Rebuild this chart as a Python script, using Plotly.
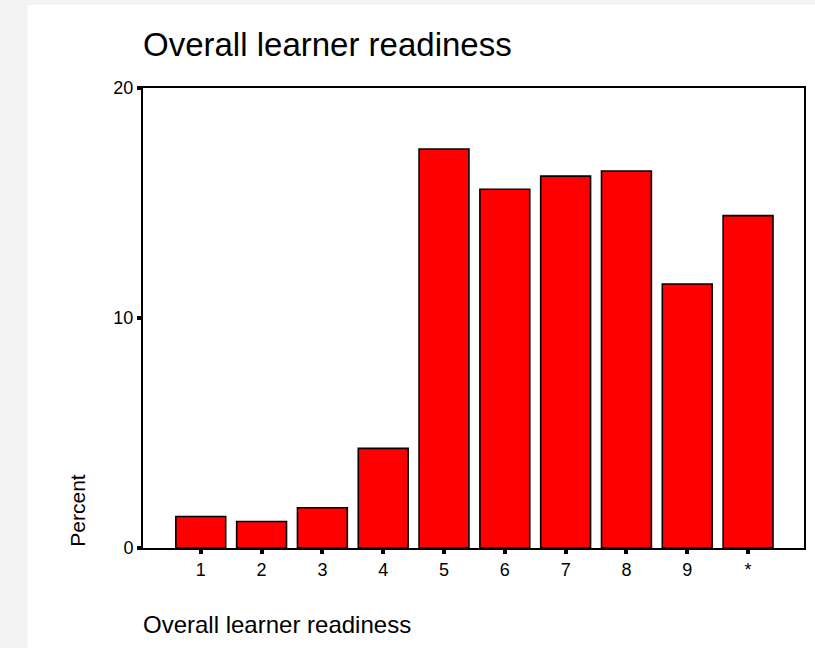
import plotly.graph_objects as go

categories = ["1", "2", "3", "4", "5", "6", "7", "8", "9", "*"]
percent = [1.37, 1.15, 1.75, 4.33, 17.35, 15.6, 16.17, 16.39, 11.48, 14.45]
y_ticks = [0, 10, 20]

title_text = "Overall learner readiness"
x_title = "Overall learner readiness"
y_title = "Percent"

FONT = "Liberation Sans, Arial, Helvetica, sans-serif"

W, H = 815, 648
L, R, T, B = 143, 9, 88, 100
pw, ph = W - L - R, H - T - B


def px(x):
    return (x - L) / pw


def py(y):
    return (H - B - y) / ph


fig = go.Figure(
    go.Bar(
        x=categories,
        y=percent,
        width=0.82,
        marker=dict(color="#ff0000", line=dict(color="black", width=1.6)),
    )
)

shapes = [
    dict(type="rect", xref="paper", yref="paper", x0=px(-5), x1=px(W + 5), y0=py(-5), y1=py(5),
         fillcolor="#f3f3f3", line=dict(width=0), layer="below"),
    dict(type="rect", xref="paper", yref="paper", x0=px(-5), x1=px(27), y0=py(-5), y1=py(H + 5),
         fillcolor="#f3f3f3", line=dict(width=0), layer="below"),
]

annotations = [
    dict(text=title_text, xref="paper", yref="paper", x=px(141), y=py(45), xanchor="left",
         yanchor="middle", showarrow=False, font=dict(family=FONT, size=33, color="black")),
    dict(text=x_title, xref="paper", yref="paper", x=px(141), y=py(624), xanchor="left",
         yanchor="middle", showarrow=False, font=dict(family=FONT, size=24, color="black")),
    dict(text=y_title, xref="paper", yref="paper", x=px(77), y=py(549), xanchor="center",
         yanchor="bottom", textangle=-90, showarrow=False,
         font=dict(family=FONT, size=21, color="black")),
]

fig.update_layout(
    width=W,
    height=H,
    margin=dict(l=L, r=R, t=T, b=B, pad=0),
    paper_bgcolor="white",
    plot_bgcolor="white",
    showlegend=False,
    shapes=shapes,
    annotations=annotations,
    font=dict(family=FONT, size=18, color="black"),
    xaxis=dict(
        type="category",
        range=[-0.95, 9.92],
        showline=True,
        linecolor="black",
        linewidth=2,
        mirror=True,
        ticks="outside",
        ticklen=4,
        tickwidth=4,
        tickcolor="black",
        showgrid=False,
        zeroline=False,
        tickfont=dict(family=FONT, size=18, color="black"),
    ),
    yaxis=dict(
        range=[0, 20],
        tickvals=y_ticks,
        ticktext=[str(v) for v in y_ticks],
        showline=True,
        linecolor="black",
        linewidth=2,
        mirror=True,
        ticks="outside",
        ticklen=4,
        tickwidth=4,
        tickcolor="black",
        showgrid=False,
        zeroline=False,
        tickfont=dict(family=FONT, size=18, color="black"),
    ),
)

fig.write_html(
    "out.html",
    config={"displayModeBar": False},
    post_script="document.body.style.margin='0';document.body.style.overflow='hidden';",
)
